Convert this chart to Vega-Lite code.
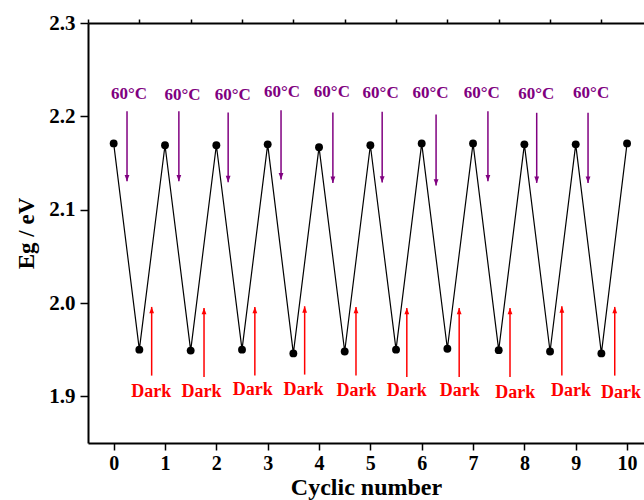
{
  "$schema": "https://vega.github.io/schema/vega-lite/v6.json",
  "width": 556,
  "height": 420,
  "autosize": {"type": "none"},
  "padding": {"left": 88, "top": 23, "right": 0, "bottom": 57},
  "background": "white",
  "config": {
    "view": {"stroke": null},
    "axis": {
      "labelFont": "Liberation Serif",
      "titleFont": "Liberation Serif",
      "labelFontWeight": "bold",
      "titleFontWeight": "bold",
      "labelColor": "black",
      "titleColor": "black",
      "domainColor": "black",
      "tickColor": "black",
      "grid": false,
      "domainWidth": 2,
      "tickWidth": 1.5
    }
  },
  "datasets": {
    "series": [
      {"cycle": 0, "eg": 2.171},
      {"cycle": 0.5, "eg": 1.950},
      {"cycle": 1, "eg": 2.169},
      {"cycle": 1.5, "eg": 1.949},
      {"cycle": 2, "eg": 2.169},
      {"cycle": 2.5, "eg": 1.950},
      {"cycle": 3, "eg": 2.170},
      {"cycle": 3.5, "eg": 1.946},
      {"cycle": 4, "eg": 2.167},
      {"cycle": 4.5, "eg": 1.948},
      {"cycle": 5, "eg": 2.169},
      {"cycle": 5.5, "eg": 1.950},
      {"cycle": 6, "eg": 2.171},
      {"cycle": 6.5, "eg": 1.951},
      {"cycle": 7, "eg": 2.171},
      {"cycle": 7.5, "eg": 1.9495},
      {"cycle": 8, "eg": 2.170},
      {"cycle": 8.5, "eg": 1.948},
      {"cycle": 9, "eg": 2.170},
      {"cycle": 9.5, "eg": 1.946},
      {"cycle": 10, "eg": 2.171}
    ],
    "heat": [
      {"ax": 0.26, "top": 2.2055, "tip": 2.1304, "lx": 0.30, "ly": 2.2241, "label": "60°C"},
      {"ax": 1.27, "top": 2.2055, "tip": 2.1304, "lx": 1.34, "ly": 2.2233, "label": "60°C"},
      {"ax": 2.23, "top": 2.2040, "tip": 2.1294, "lx": 2.32, "ly": 2.2233, "label": "60°C"},
      {"ax": 3.26, "top": 2.2065, "tip": 2.1323, "lx": 3.28, "ly": 2.2258, "label": "60°C"},
      {"ax": 4.27, "top": 2.2040, "tip": 2.1287, "lx": 4.25, "ly": 2.2258, "label": "60°C"},
      {"ax": 5.23, "top": 2.2050, "tip": 2.1290, "lx": 5.20, "ly": 2.2245, "label": "60°C"},
      {"ax": 6.28, "top": 2.2019, "tip": 2.1258, "lx": 6.17, "ly": 2.2251, "label": "60°C"},
      {"ax": 7.29, "top": 2.2055, "tip": 2.1304, "lx": 7.17, "ly": 2.2251, "label": "60°C"},
      {"ax": 8.24, "top": 2.2038, "tip": 2.1287, "lx": 8.23, "ly": 2.2241, "label": "60°C"},
      {"ax": 9.24, "top": 2.2038, "tip": 2.1287, "lx": 9.30, "ly": 2.2251, "label": "60°C"}
    ],
    "dark": [
      {"ax": 0.74, "bottom": 1.9222, "tip": 1.9958, "lx": 0.73, "ly": 1.9043, "label": "Dark"},
      {"ax": 1.76, "bottom": 1.9208, "tip": 1.9947, "lx": 1.71, "ly": 1.9043, "label": "Dark"},
      {"ax": 2.75, "bottom": 1.9222, "tip": 1.9958, "lx": 2.71, "ly": 1.9064, "label": "Dark"},
      {"ax": 3.72, "bottom": 1.9233, "tip": 1.9965, "lx": 3.70, "ly": 1.9072, "label": "Dark"},
      {"ax": 4.72, "bottom": 1.9222, "tip": 1.9958, "lx": 4.73, "ly": 1.9053, "label": "Dark"},
      {"ax": 5.71, "bottom": 1.9208, "tip": 1.9947, "lx": 5.71, "ly": 1.9053, "label": "Dark"},
      {"ax": 6.73, "bottom": 1.9208, "tip": 1.9947, "lx": 6.74, "ly": 1.9053, "label": "Dark"},
      {"ax": 7.72, "bottom": 1.9208, "tip": 1.9947, "lx": 7.82, "ly": 1.9036, "label": "Dark"},
      {"ax": 8.73, "bottom": 1.9222, "tip": 1.9965, "lx": 8.91, "ly": 1.9061, "label": "Dark"},
      {"ax": 9.76, "bottom": 1.9222, "tip": 1.9958, "lx": 9.88, "ly": 1.9040, "label": "Dark"}
    ]
  },
  "layer": [
    {
      "data": {"name": "series"},
      "mark": {"type": "line", "color": "black", "strokeWidth": 1.2},
      "encoding": {
        "x": {
          "field": "cycle", "type": "quantitative",
          "scale": {"domain": [-0.5, 10.33], "nice": false, "zero": false},
          "axis": {
            "values": [0, 1, 2, 3, 4, 5, 6, 7, 8, 9, 10],
            "format": "d",
            "tickSize": 7,
            "labelFontSize": 20,
            "labelPadding": 3,
            "labelFlush": false,
            "title": "Cyclic number",
            "titleFontSize": 24,
            "titlePadding": 2
          }
        },
        "y": {
          "field": "eg", "type": "quantitative",
          "scale": {"domain": [1.85, 2.3], "nice": false, "zero": false},
          "axis": {
            "values": [1.9, 2.0, 2.1, 2.2, 2.3],
            "format": ".1f",
            "tickSize": 8,
            "labelFontSize": 21,
            "labelPadding": 5,
            "title": "Eg / eV",
            "titleFontSize": 23,
            "titlePadding": 10
          }
        }
      }
    },
    {
      "data": {"name": "series"},
      "mark": {"type": "point", "filled": true, "color": "black", "opacity": 1, "size": 62},
      "encoding": {
        "x": {
          "field": "cycle", "type": "quantitative",
          "axis": {
            "values": [-0.5, 0.5, 1.5, 2.5, 3.5, 4.5, 5.5, 6.5, 7.5, 8.5, 9.5],
            "labels": false, "domain": false, "tickSize": 4, "title": null
          }
        },
        "y": {
          "field": "eg", "type": "quantitative",
          "axis": {
            "values": [1.85, 1.95, 2.05, 2.15, 2.25],
            "labels": false, "domain": false, "tickSize": 5, "title": null
          }
        }
      }
    },
    {
      "data": {"name": "heat"},
      "mark": {"type": "rule", "color": "#800080", "strokeWidth": 1.5},
      "encoding": {
        "x": {
          "field": "ax", "type": "quantitative",
          "axis": {"orient": "top", "labels": false, "ticks": false, "domain": true, "title": null}
        },
        "y": {"field": "top", "type": "quantitative", "axis": null},
        "y2": {"field": "tip"}
      }
    },
    {
      "data": {"name": "heat"},
      "mark": {"type": "point", "filled": true, "color": "#800080", "opacity": 1, "size": 64, "shape": "M-0.6,-1.6L0.6,-1.6L0,0Z"},
      "encoding": {
        "x": {"field": "ax", "type": "quantitative", "axis": null},
        "y": {"field": "tip", "type": "quantitative", "axis": null}
      }
    },
    {
      "data": {"name": "heat"},
      "mark": {"type": "text", "color": "#800080", "font": "Liberation Serif", "fontWeight": "bold", "fontSize": 17, "baseline": "middle", "align": "center"},
      "encoding": {
        "x": {"field": "lx", "type": "quantitative", "axis": null},
        "y": {"field": "ly", "type": "quantitative", "axis": null},
        "text": {"field": "label"}
      }
    },
    {
      "data": {"name": "dark"},
      "mark": {"type": "rule", "color": "#ff0000", "strokeWidth": 1.5},
      "encoding": {
        "x": {"field": "ax", "type": "quantitative", "axis": null},
        "y": {"field": "bottom", "type": "quantitative", "axis": null},
        "y2": {"field": "tip"}
      }
    },
    {
      "data": {"name": "dark"},
      "mark": {"type": "point", "filled": true, "color": "#ff0000", "opacity": 1, "size": 64, "shape": "M-0.6,1.6L0.6,1.6L0,0Z"},
      "encoding": {
        "x": {"field": "ax", "type": "quantitative", "axis": null},
        "y": {"field": "tip", "type": "quantitative", "axis": null}
      }
    },
    {
      "data": {"name": "dark"},
      "mark": {"type": "text", "color": "#ff0000", "font": "Liberation Serif", "fontWeight": "bold", "fontSize": 18, "baseline": "middle", "align": "center"},
      "encoding": {
        "x": {"field": "lx", "type": "quantitative", "axis": null},
        "y": {"field": "ly", "type": "quantitative", "axis": null},
        "text": {"field": "label"}
      }
    }
  ],
  "resolve": {"axis": {"x": "independent", "y": "independent"}}
}
